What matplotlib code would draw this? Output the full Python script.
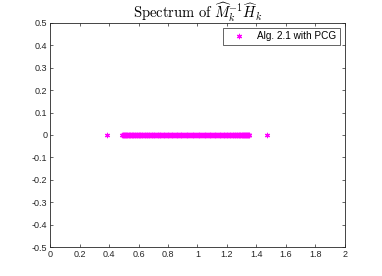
import matplotlib
matplotlib.use("Agg")
import matplotlib.pyplot as plt

plt.rcParams['mathtext.fontset'] = 'cm'

eigenvalues = [
    0.386,
    0.488, 0.492, 0.495, 0.499, 0.502, 0.506, 0.510, 0.513, 0.517, 0.521,
    0.525, 0.529, 0.533, 0.537, 0.541, 0.545, 0.549, 0.553, 0.557, 0.562,
    0.566, 0.570, 0.574, 0.579, 0.583, 0.587, 0.591, 0.596, 0.600, 0.605,
    0.609, 0.613, 0.618, 0.622, 0.627, 0.632, 0.636, 0.641, 0.645, 0.650,
    0.655, 0.659, 0.664, 0.669, 0.674, 0.679, 0.684, 0.689, 0.694, 0.698,
    0.703, 0.708, 0.713, 0.718, 0.723, 0.729, 0.734, 0.739, 0.744, 0.749,
    0.754, 0.760, 0.765, 0.770, 0.775, 0.781, 0.786, 0.791, 0.797, 0.802,
    0.808, 0.813, 0.819, 0.824, 0.830, 0.835, 0.841, 0.846, 0.852, 0.858,
    0.863, 0.869, 0.875, 0.880, 0.886, 0.891, 0.897, 0.903, 0.909, 0.914,
    0.920, 0.926, 0.932, 0.938, 0.944, 0.949, 0.955, 0.961, 0.967, 0.972,
    0.978, 0.984, 0.990, 0.996, 1.002, 1.007, 1.013, 1.019, 1.025, 1.031,
    1.037, 1.042, 1.048, 1.054, 1.060, 1.065, 1.071, 1.077, 1.083, 1.088,
    1.094, 1.100, 1.106, 1.111, 1.117, 1.122, 1.128, 1.133, 1.139, 1.144,
    1.150, 1.155, 1.161, 1.166, 1.172, 1.177, 1.182, 1.187, 1.193, 1.198,
    1.203, 1.208, 1.213, 1.218, 1.223, 1.228, 1.233, 1.238, 1.243, 1.247,
    1.252, 1.257, 1.261, 1.266, 1.270, 1.274, 1.279, 1.283, 1.287, 1.291,
    1.295, 1.299, 1.303, 1.307, 1.311, 1.314, 1.318, 1.322, 1.325, 1.329,
    1.332, 1.335, 1.338, 1.341, 1.344, 1.347, 1.349,
    1.470,
]
imag_parts = [0.0] * len(eigenvalues)

xticks = [0, 0.2, 0.4, 0.6, 0.8, 1, 1.2, 1.4, 1.6, 1.8, 2]
xticklabels = ['0', '0.2', '0.4', '0.6', '0.8', '1', '1.2', '1.4', '1.6', '1.8', '2']
yticks = [-0.5, -0.4, -0.3, -0.2, -0.1, 0, 0.1, 0.2, 0.3, 0.4, 0.5]
yticklabels = ['-0.5', '-0.4', '-0.3', '-0.2', '-0.1', '0', '0.1', '0.2', '0.3', '0.4', '0.5']

fig = plt.figure(figsize=(3.82, 2.76), dpi=100)
ax = fig.add_axes([0.131, 0.105, 0.772, 0.812])

ax.plot(eigenvalues, imag_parts, linestyle='none', marker=(6, 2, 0), color='#ff00ff',
        markersize=3.8, markeredgewidth=0.8, label='Alg. 2.1 with PCG')

ax.set_xlim(0, 2)
ax.set_ylim(-0.5, 0.5)
ax.set_xticks(xticks)
ax.set_xticklabels(xticklabels, family='Liberation Sans', fontsize=6.5)
ax.set_yticks(yticks)
ax.set_yticklabels(yticklabels, family='Liberation Sans', fontsize=6.5)
ax.tick_params(direction='in', length=2.5, width=0.5, top=True, right=True, pad=2, colors='#262626')
for s in ax.spines.values():
    s.set_linewidth(0.6)
    s.set_color('#262626')

ax.set_title(r'$\mathrm{Spectrum\ of}\ \widehat{M}_k^{-1}\widehat{H}_k$', fontsize=10.5, pad=3)

leg = ax.legend(loc='upper right', prop={'family': 'Liberation Sans', 'size': 7.2},
                fancybox=False, edgecolor='#262626', framealpha=1,
                borderpad=0.35, handlelength=2.6, handletextpad=0.5, borderaxespad=0.5)
leg.get_frame().set_linewidth(0.5)

fig.savefig('out.png', dpi=100)
